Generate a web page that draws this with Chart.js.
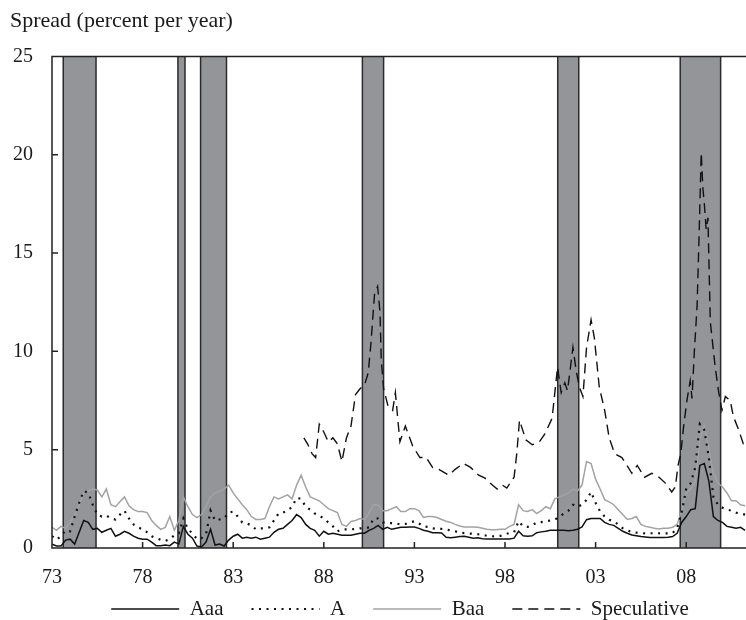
<!DOCTYPE html>
<html>
<head>
<meta charset="utf-8">
<script src="https://cdn.jsdelivr.net/npm/chart.js@4.4.0/dist/chart.umd.min.js"></script>
<style>
  body { margin: 0; background: #fff; }
  canvas { display: block; }
</style>
</head>
<body>
<canvas id="chart" width="746" height="620"></canvas>
<script>
// quarterly spreads, first value = 1973 Q1
const aaa = [
  0.2, 0.1, 0.1, 0.4,   0.45, 0.2, 0.8, 1.4,   1.3, 0.95, 1.0, 0.8,   0.9, 1.0, 0.6, 0.7,
  0.85, 0.75, 0.6, 0.5, 0.45, 0.45, 0.3, 0.12, 0.12, 0.15, 0.12, 0.3, 0.2, 1.1, 0.7, 0.5,
  0.1, 0.05, 0.3, 0.95, 0.15, 0.2, 0.1, 0.4,  0.6, 0.7, 0.5, 0.55,  0.5, 0.55, 0.45, 0.5,
  0.55, 0.8, 0.95, 1.0, 1.2, 1.4, 1.7, 1.55,  1.2, 1.0, 0.9, 0.6,   0.85, 0.7, 0.75, 0.7,
  0.65, 0.65, 0.65, 0.7, 0.75, 0.75, 0.9, 1.0, 1.15, 0.95, 1.05, 0.95, 1.0, 1.05, 1.05, 1.07,
  1.07, 1.0, 0.9, 0.85, 0.78, 0.78, 0.76, 0.55, 0.52, 0.55, 0.58, 0.6, 0.55, 0.5, 0.52, 0.47,
  0.46, 0.46, 0.46, 0.46, 0.46, 0.46, 0.5, 0.85, 0.62, 0.6, 0.62, 0.78, 0.82, 0.85, 0.9, 0.9,
  0.9, 0.9, 0.88, 0.9,  0.95, 1.07, 1.44, 1.5, 1.5, 1.5, 1.3, 1.2,  1.15, 1.0, 0.85, 0.75,
  0.66, 0.62, 0.58, 0.56, 0.54, 0.54, 0.54, 0.54, 0.55, 0.58, 0.75, 1.3, 1.6, 1.95, 2.0, 4.2,
  4.3, 3.4, 1.6, 1.4,   1.3, 1.1, 1.05, 1.0,  1.05, 0.9
];
const ratingA = [
  0.6, 0.42, 0.6, 0.9,  0.85, 1.6, 2.3, 2.9,  2.8, 2.2, 1.7, 1.6,   1.65, 1.5, 1.45, 1.7,
  1.9, 1.5, 1.2, 1.05,  0.95, 0.8, 0.6, 0.5,  0.42, 0.36, 0.45, 0.65, 0.75, 1.5, 0.95, 0.75,
  0.45, 0.5, 0.7, 1.9,  1.4, 1.45, 1.5, 1.8,  1.85, 1.6, 1.3, 1.25, 1.15, 0.95, 1.0, 1.0,
  1.05, 1.4, 1.75, 1.8, 1.9, 2.1, 2.55, 2.5,  2.1, 1.95, 1.75, 1.65, 1.5, 1.3, 1.1, 0.85,
  0.95, 0.95, 0.95, 0.97, 1.0, 1.0, 1.05, 1.5, 1.5, 1.3, 1.27, 1.27, 1.25, 1.19, 1.22, 1.3,
  1.36, 1.25, 1.1, 1.07, 1.0, 0.97, 0.97, 0.93, 0.9, 0.85, 0.78, 0.76, 0.74, 0.72, 0.7, 0.68,
  0.62, 0.6, 0.59, 0.62, 0.7, 0.76, 0.8, 1.36, 1.1, 1.07, 1.15, 1.3, 1.32, 1.36, 1.4, 1.44,
  1.6, 1.75, 1.9, 2.2,  2.1, 2.2, 2.45, 2.85, 2.3, 1.86, 1.6, 1.44, 1.35, 1.2, 1.0, 0.9,
  0.8, 0.78, 0.76, 0.74, 0.75, 0.75, 0.75, 0.74, 0.74, 0.76, 1.0, 1.8, 3.0, 3.3, 4.1, 6.3,
  6.0, 4.6, 2.6, 2.2,   2.05, 1.95, 1.9, 1.8, 1.75, 1.7
];
const baa = [
  1.05, 0.9, 1.1, 1.0,  1.3, 1.7, 2.2, 2.8,   2.9, 3.0, 2.95, 2.6,  3.0, 2.2, 2.1, 2.35,
  2.6, 2.15, 1.95, 1.85, 1.85, 1.8, 1.4, 1.15, 0.95, 1.05, 1.6, 0.9, 1.4, 2.6, 2.1, 1.7,
  1.55, 1.7, 2.1, 2.6,  2.8, 2.9, 3.0, 3.2,   2.8, 2.5, 2.2, 1.95,  1.6, 1.45, 1.45, 1.5,
  2.1, 2.6, 2.5, 2.6,   2.7, 2.5, 3.2, 3.7,   3.1, 2.6, 2.5, 2.4,   2.2, 2.0, 1.9, 1.8,
  1.2, 1.1, 1.35, 1.4,  1.5, 1.45, 1.8, 2.2,  2.2, 1.9, 1.9, 2.0,   2.1, 1.85, 1.85, 2.0,
  2.0, 1.9, 1.55, 1.6,  1.6, 1.55, 1.45, 1.36, 1.3, 1.2, 1.12, 1.07, 1.07, 1.07, 1.05, 1.0,
  0.95, 0.93, 0.93, 0.95, 0.95, 1.1, 1.2, 2.2, 1.9, 1.86, 1.95, 1.75, 1.9, 2.1, 2.0, 2.5,
  2.6, 2.7, 2.8, 3.0,   2.9, 3.2, 4.4, 4.3,   3.5, 3.0, 2.46, 2.35, 2.2, 1.95, 1.7, 1.45,
  1.5, 1.6, 1.2, 1.1,   1.05, 1.0, 0.97, 1.0, 1.0, 1.05, 1.2, 1.9,  2.8, 3.0, 3.4, 5.5,
  6.2, 5.0, 3.8, 3.3,   3.1, 2.8, 2.4, 2.4,   2.2, 2.15
];

// speculative grade series starts late 1986, irregular dates
const specYears = [
  1986.9, 1987.1, 1987.35, 1987.55, 1987.75, 1988.0, 1988.25, 1988.5, 1988.75, 1989.0,
  1989.25, 1989.5, 1989.75, 1990.0, 1990.25, 1990.45, 1990.6, 1990.8, 1990.97, 1991.1,
  1991.17, 1991.3, 1991.55, 1991.8, 1991.95, 1992.2, 1992.5, 1992.9, 1993.3, 1993.65,
  1994.0, 1994.35, 1994.9, 1995.25, 1995.7, 1996.1, 1996.55, 1996.9, 1997.3, 1997.57,
  1997.85, 1998.1, 1998.5, 1998.65, 1998.8, 1999.15, 1999.5, 1999.9, 2000.2, 2000.6,
  2000.9, 2001.1, 2001.3, 2001.45, 2001.75, 2001.93, 2002.1, 2002.3, 2002.5, 2002.75,
  2002.93, 2003.2, 2003.5, 2003.75, 2004.05, 2004.45, 2005.0, 2005.3, 2005.7, 2006.1,
  2006.5, 2006.85, 2007.2, 2007.4, 2007.55, 2007.7, 2007.86, 2008.04, 2008.22, 2008.32,
  2008.45, 2008.6, 2008.7, 2008.83, 2008.92, 2009.0, 2009.1, 2009.2, 2009.33, 2009.6,
  2009.78, 2009.97, 2010.16, 2010.43, 2010.6, 2010.9, 2011.15, 2011.3
];
const specValues = [
  5.6, 5.3, 4.8, 4.6, 6.3, 5.9, 5.4, 5.6, 5.3, 4.4,
  5.6, 6.2, 7.8, 8.1, 8.3, 8.9, 10.4, 12.9, 13.3, 12.0,
  9.6, 8.1, 7.2, 7.0, 7.9, 5.4, 6.2, 5.2, 4.6, 4.6,
  4.1, 4.0, 3.7, 4.0, 4.3, 4.1, 3.7, 3.55, 3.2, 3.0,
  3.2, 3.05, 3.6, 4.8, 6.5, 5.5, 5.25, 5.4, 5.8, 6.6,
  9.2, 7.9, 8.4, 8.0, 10.2, 9.0, 8.2, 7.7, 10.2, 11.6,
  10.7, 8.2, 7.0, 5.6, 4.8, 4.6, 3.8, 4.2, 3.6, 3.8,
  3.6, 3.3, 2.85, 3.1, 4.2, 4.8, 6.2, 7.5, 8.5, 7.6,
  10.0, 12.3, 15.5, 20.1, 18.3, 17.5, 16.2, 16.8, 11.5, 9.2,
  8.0, 7.0, 7.7, 7.5, 6.7, 6.0, 5.3, 5.3
];

// recession periods (shaded)
const recessions = [
  [1973.62, 1975.43], [1979.95, 1980.34], [1981.2, 1982.63],
  [1990.13, 1991.3], [2000.91, 2002.07], [2007.67, 2009.9]
];

const tickYears = [1973, 1978, 1983, 1988, 1993, 1998, 2003, 2008];
const yTicks = [0, 5, 10, 15, 20, 25];

const quarters = aaa.map((v, i) => 1973 + i / 4);
const toPoints = (xs, ys) => ys.map((v, i) => ({ x: xs[i], y: v }));

const serif = 'Liberation Serif, Times New Roman, serif';
const ink = '#1a1a1a';

// gray recession bars behind the lines
const recessionBars = {
  id: 'recessionBars',
  beforeDatasetsDraw(chart) {
    const { ctx, chartArea: a, scales: { x } } = chart;
    ctx.save();
    ctx.fillStyle = '#939598';
    ctx.strokeStyle = '#2b2b2b';
    ctx.lineWidth = 1.5;
    recessions.forEach(r => {
      const x0 = x.getPixelForValue(r[0]);
      const x1 = x.getPixelForValue(r[1]);
      ctx.fillRect(x0, a.top, x1 - x0, a.bottom - a.top);
      ctx.beginPath();
      ctx.moveTo(x0, a.top); ctx.lineTo(x0, a.bottom);
      ctx.moveTo(x1, a.top); ctx.lineTo(x1, a.bottom);
      ctx.stroke();
    });
    ctx.restore();
  }
};

// frame on top/left/bottom with tick marks pointing inward
const frame = {
  id: 'frame',
  afterDatasetsDraw(chart) {
    const { ctx, chartArea: a, scales: { x, y } } = chart;
    ctx.save();
    ctx.strokeStyle = '#222';
    ctx.lineWidth = 1.5;
    ctx.beginPath();
    ctx.moveTo(a.right, a.top);
    ctx.lineTo(a.left, a.top);
    ctx.lineTo(a.left, a.bottom);
    ctx.lineTo(a.right, a.bottom);
    x.ticks.forEach(t => {
      const px = x.getPixelForValue(t.value);
      ctx.moveTo(px, a.bottom); ctx.lineTo(px, a.bottom - 6);
    });
    y.ticks.forEach(t => {
      const py = y.getPixelForValue(t.value);
      ctx.moveTo(a.left, py); ctx.lineTo(a.left + 6, py);
    });
    ctx.stroke();
    ctx.restore();
  }
};

// legend sits a bit higher and centred under the plot, not the canvas
const legendNudge = {
  id: 'legendNudge',
  afterLayout(chart) {
    const lg = chart.legend;
    lg.left += 22; lg.right += 22;
    lg.top -= 19.5; lg.bottom -= 19.5;
  }
};

const lineBase = { pointRadius: 0, tension: 0, fill: false };

new Chart(document.getElementById('chart'), {
  type: 'line',
  data: {
    datasets: [
      Object.assign({ label: 'Aaa', data: toPoints(quarters, aaa),
        borderColor: '#111', borderWidth: 1.5 }, lineBase),
      Object.assign({ label: 'A', data: toPoints(quarters, ratingA),
        borderColor: '#111', borderWidth: 2.2, borderDash: [2, 5.5] }, lineBase),
      Object.assign({ label: 'Baa', data: toPoints(quarters, baa),
        borderColor: '#a3a3a3', borderWidth: 1.5 }, lineBase),
      Object.assign({ label: 'Speculative', data: toPoints(specYears, specValues),
        borderColor: '#111', borderWidth: 1.4, borderDash: [10, 6] }, lineBase)
    ]
  },
  options: {
    responsive: false,
    devicePixelRatio: 1,
    animation: false,
    layout: { padding: { left: 10, right: 0, top: 0, bottom: -29 } },
    plugins: {
      title: {
        display: true,
        text: 'Spread (percent per year)',
        align: 'start',
        color: ink,
        font: { family: serif, size: 22, weight: 'normal' },
        padding: { top: 8, bottom: 22 }
      },
      legend: {
        position: 'bottom',
        labels: {
          color: ink,
          font: { family: serif, size: 21 },
          usePointStyle: true,
          pointStyleWidth: 68,
          padding: 28,
          // line samples keep each dataset's own dash pattern
          generateLabels: chart => chart.data.datasets.map((ds, i) => ({
            text: ds.label,
            datasetIndex: i,
            hidden: false,
            fontColor: ink,
            fillStyle: ds.borderColor,
            strokeStyle: ds.borderColor,
            lineWidth: ds.borderWidth,
            lineDash: ds.borderDash || [],
            pointStyle: 'line'
          }))
        }
      },
      tooltip: { enabled: false }
    },
    scales: {
      x: {
        type: 'linear',
        min: 1973,
        max: 2011.3,
        grid: { display: false, drawTicks: false },
        border: { display: false },
        ticks: {
          color: ink,
          font: { family: serif, size: 20 },
          padding: 18,
          autoSkip: false,
          maxRotation: 0,
          callback: v => String(v).slice(2)
        },
        afterBuildTicks: s => { s.ticks = tickYears.map(v => ({ value: v })); },
        afterFit: s => { s.height = 42; }
      },
      y: {
        min: 0,
        max: 25,
        grid: { display: false, drawTicks: false },
        border: { display: false },
        ticks: {
          color: ink,
          font: { family: serif, size: 20 },
          padding: 19
        },
        afterBuildTicks: s => { s.ticks = yTicks.map(v => ({ value: v })); },
        afterFit: s => { s.width = 42; }
      }
    }
  },
  plugins: [recessionBars, frame, legendNudge]
});
</script>
</body>
</html>
